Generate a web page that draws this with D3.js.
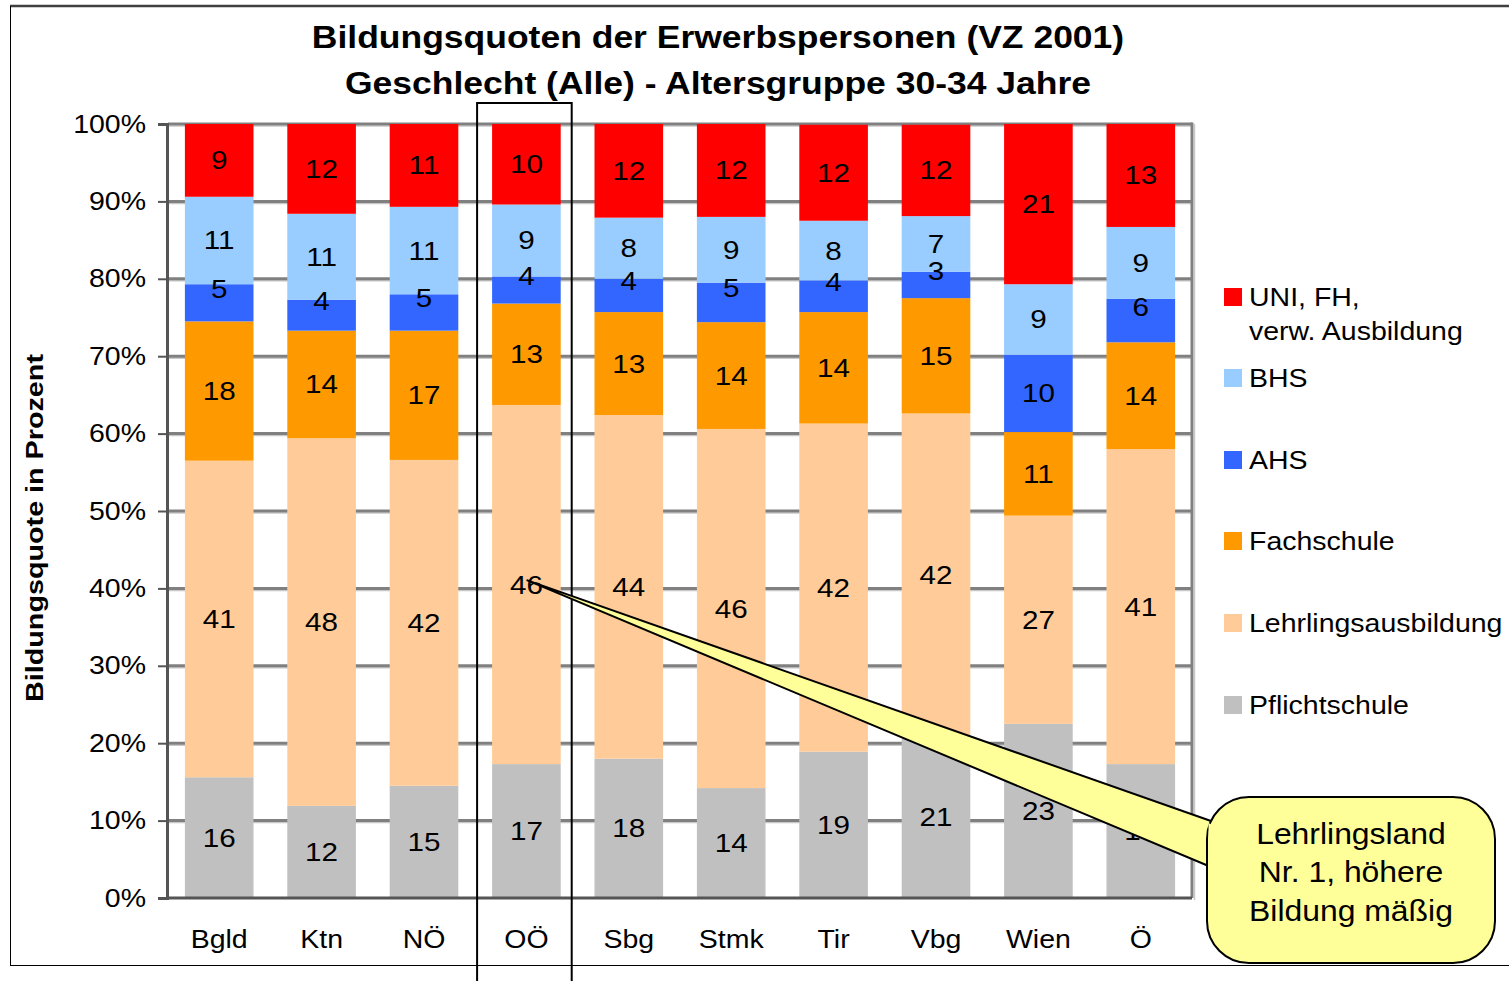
<!DOCTYPE html>
<html>
<head>
<meta charset="utf-8">
<script src="https://cdn.jsdelivr.net/npm/d3@7"></script>
<style>
  html, body { margin: 0; padding: 0; background: #fff; }
  svg { display: block; font-family: Arial, "Liberation Sans", sans-serif; }
</style>
</head>
<body>
<svg id="chart" width="1509" height="981"></svg>
<script>
// categories (Bundesländer)
const regions = ["Bgld", "Ktn", "NÖ", "OÖ", "Sbg", "Stmk", "Tir", "Vbg", "Wien", "Ö"];

// series, bottom to top (percent)
const pflichtschule = [15.6, 11.9, 14.5, 17.3, 18.0, 14.2, 18.9, 20.9, 22.5, 17.3];
const lehrlinge     = [40.9, 47.5, 42.1, 46.4, 44.4, 46.4, 42.4, 41.7, 26.9, 40.7];
const fachschule    = [18.0, 13.9, 16.7, 13.1, 13.3, 13.8, 14.4, 14.9, 10.8, 13.8];
const ahs           = [4.8, 4.0, 4.7, 3.5, 4.3, 5.1, 4.1, 3.4, 10.0, 5.6];
const bhs           = [11.3, 11.1, 11.3, 9.3, 7.9, 8.5, 7.7, 7.2, 9.1, 9.3];
const uni           = [9.4, 11.6, 10.7, 10.4, 12.1, 12.0, 12.4, 11.8, 20.7, 13.3];

const seriesKeys = ["Pflichtschule", "Lehrlingsausbildung", "Fachschule", "AHS", "BHS", "UNI"];
const seriesValues = [pflichtschule, lehrlinge, fachschule, ahs, bhs, uni];
const seriesColors = ["#C0C0C0", "#FFCC99", "#FF9900", "#3366FF", "#99CCFF", "#FF0000"];

const yTicks = [0, 10, 20, 30, 40, 50, 60, 70, 80, 90, 100];

const legendItems = [
  { key: "UNI", lines: ["UNI, FH,", "verw. Ausbildung"] },
  { key: "BHS", lines: ["BHS"] },
  { key: "AHS", lines: ["AHS"] },
  { key: "Fachschule", lines: ["Fachschule"] },
  { key: "Lehrlingsausbildung", lines: ["Lehrlingsausbildung"] },
  { key: "Pflichtschule", lines: ["Pflichtschule"] }
];

const titleLines = ["Bildungsquoten der Erwerbspersonen (VZ 2001)", "Geschlecht (Alle) - Altersgruppe 30-34 Jahre"];
const calloutLines = ["Lehrlingsland", "Nr. 1, höhere", "Bildung mäßig"];
const calloutTarget = { region: "OÖ", value: 40 };

// build table for the stack
const table = regions.map((r, i) => {
  const row = { region: r };
  seriesKeys.forEach((k, j) => { row[k] = seriesValues[j][i]; });
  return row;
});

const svg = d3.select("#chart");
const W = 1509, H = 981;
const plot = { left: 168, right: 1192, top: 124, bottom: 898 };
const SX = 1.14; // the original's text is a bit wider than Liberation Sans

// widen text horizontally around its own x anchor
function stretch(sel, sx) {
  sel.each(function () {
    const t = d3.select(this);
    const x0 = +t.attr("x") || 0;
    const prev = t.attr("transform") || "";
    t.attr("transform", `${prev} translate(${x0},0) scale(${sx},1) translate(${-x0},0)`);
  });
}

const x = d3.scaleBand().domain(regions).range([plot.left, plot.right]).paddingInner(0.33).paddingOuter(0.165);
const y = d3.scaleLinear().domain([0, 100]).range([plot.bottom, plot.top]);
const color = d3.scaleOrdinal().domain(seriesKeys).range(seriesColors);

// outer frame
svg.append("line").attr("x1", 10).attr("x2", W).attr("y1", 6).attr("y2", 6)
  .attr("stroke", "#404040").attr("stroke-width", 2.5);
svg.append("line").attr("x1", 10.5).attr("x2", 10.5).attr("y1", 6).attr("y2", 965)
  .attr("stroke", "#000").attr("stroke-width", 1);
svg.append("line").attr("x1", 10).attr("x2", W).attr("y1", 965.5).attr("y2", 965.5)
  .attr("stroke", "#000").attr("stroke-width", 1);

// title
svg.append("g").selectAll("text").data(titleLines).join("text")
  .attr("x", 718).attr("y", (d, i) => 48 + i * 46)
  .attr("text-anchor", "middle")
  .attr("font-size", 31).attr("font-weight", "bold")
  .text(d => d)
  .call(stretch, 1.145);

// gridlines
const grid = svg.append("g");
grid.selectAll("line.shadow").data(yTicks.filter(t => t > 0)).join("line")
  .attr("class", "shadow")
  .attr("x1", plot.left).attr("x2", plot.right)
  .attr("y1", d => y(d) + 2).attr("y2", d => y(d) + 2)
  .attr("stroke", "#c8c8c8").attr("stroke-width", 1.5);
grid.selectAll("line.main").data(yTicks.filter(t => t > 0)).join("line")
  .attr("class", "main")
  .attr("x1", plot.left).attr("x2", plot.right)
  .attr("y1", d => y(d)).attr("y2", d => y(d))
  .attr("stroke", "#808080").attr("stroke-width", 3);
// right border of plot area
svg.append("line").attr("x1", plot.right).attr("x2", plot.right)
  .attr("y1", plot.top - 1.5).attr("y2", plot.bottom)
  .attr("stroke", "#808080").attr("stroke-width", 3);
svg.append("line").attr("x1", plot.right + 2.5).attr("x2", plot.right + 2.5)
  .attr("y1", plot.top).attr("y2", plot.bottom + 2)
  .attr("stroke", "#c8c8c8").attr("stroke-width", 1.5);

// stacked bars
const stacked = d3.stack().keys(seriesKeys)(table);
const layers = svg.append("g").selectAll("g").data(stacked).join("g")
  .attr("fill", d => color(d.key));
layers.selectAll("rect").data(d => d).join("rect")
  .attr("x", d => x(d.data.region))
  .attr("width", x.bandwidth())
  .attr("y", d => y(d[1]))
  .attr("height", d => y(d[0]) - y(d[1]));

// axes
const yAxis = svg.append("g").attr("transform", `translate(${plot.left - 1},0)`)
  .call(d3.axisLeft(y).tickValues(yTicks).tickFormat(d => d + "%").tickSize(9).tickPadding(12));
yAxis.select(".domain").attr("stroke", "#555").attr("stroke-width", 3);
yAxis.selectAll(".tick line").attr("stroke", "#555").attr("stroke-width", 2);
yAxis.selectAll(".tick text").attr("font-size", 25).attr("fill", "#000")
  .attr("font-family", "Arial, 'Liberation Sans', sans-serif")
  .call(stretch, SX);

const xAxis = svg.append("g").attr("transform", `translate(0,${plot.bottom})`)
  .call(d3.axisBottom(x).tickSize(0).tickPadding(32));
xAxis.select(".domain").attr("stroke", "#555").attr("stroke-width", 3)
  .attr("d", `M${plot.left - 2},0H${plot.right}`);
xAxis.selectAll(".tick text").attr("font-size", 25).attr("fill", "#000")
  .attr("font-family", "Arial, 'Liberation Sans', sans-serif")
  .call(stretch, SX);

// y axis title
svg.append("text")
  .attr("transform", "translate(43,528) rotate(-90) scale(1.25,1)")
  .attr("text-anchor", "middle")
  .attr("font-size", 23).attr("font-weight", "bold")
  .text("Bildungsquote in Prozent");

// data labels (small AHS segments get nudged up as in the original)
const labels = svg.append("g").attr("font-size", 26).attr("text-anchor", "middle");
stacked.forEach(layer => {
  labels.selectAll(null).data(layer).join("text")
    .attr("x", d => x(d.data.region) + x.bandwidth() / 2)
    .attr("y", d => {
      let cy = (y(d[0]) + y(d[1])) / 2;
      if (layer.key === "AHS" && d[1] - d[0] < 7) cy -= 14;
      return cy + 9;
    })
    .text(d => Math.round(d[1] - d[0]))
    .call(stretch, SX);
});

// legend
const legend = svg.append("g").attr("transform", "translate(1224,0)");
const legendY = [297, 378, 460, 541, 623, 705];
legendItems.forEach((item, i) => {
  const g = legend.append("g").attr("transform", `translate(0,${legendY[i]})`);
  g.append("rect").attr("x", 0).attr("y", -9).attr("width", 18).attr("height", 18)
    .attr("fill", color(item.key));
  g.selectAll("text").data(item.lines).join("text")
    .attr("x", 25).attr("y", (d, j) => 9 + j * 34)
    .attr("font-size", 25)
    .text(d => d)
    .call(stretch, SX);
});

// highlight box around OÖ
const hx = x(calloutTarget.region);
svg.append("rect")
  .attr("x", hx - 15).attr("y", 103)
  .attr("width", x.bandwidth() + 26).attr("height", H - 103 + 5)
  .attr("fill", "none").attr("stroke", "#000").attr("stroke-width", 2);

// callout
const tipX = hx + x.bandwidth() / 2 + 1, tipY = y(calloutTarget.value) - 8;
const box = { x: 1207, y: 797, w: 288, h: 166, r: 42 };
const callout = svg.append("g");
callout.append("path")
  .attr("d", `M${box.x + 4},${box.y + 24} L${tipX},${tipY} L${box.x + 4},${box.y + 70} Z`)
  .attr("fill", "#FFFF99").attr("stroke", "#000").attr("stroke-width", 2).attr("stroke-linejoin", "round");
callout.append("rect")
  .attr("x", box.x).attr("y", box.y).attr("width", box.w).attr("height", box.h)
  .attr("rx", box.r).attr("ry", box.r)
  .attr("fill", "#FFFF99").attr("stroke", "#000").attr("stroke-width", 2);
// hide seam between pointer and box
callout.append("path")
  .attr("d", `M${box.x + 1.5},${box.y + 26} L${box.x + 30},${box.y + 40} L${box.x + 30},${box.y + 55} L${box.x + 1.5},${box.y + 68} Z`)
  .attr("fill", "#FFFF99");
callout.selectAll("text").data(calloutLines).join("text")
  .attr("x", box.x + box.w / 2).attr("y", (d, i) => box.y + 47 + i * 38.5)
  .attr("text-anchor", "middle").attr("font-size", 29)
  .text(d => d)
  .call(stretch, 1.1);
</script>
</body>
</html>
